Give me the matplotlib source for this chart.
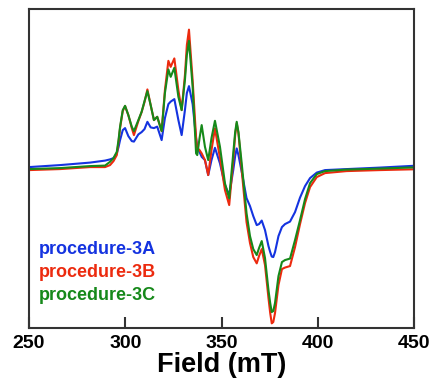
import matplotlib
matplotlib.use("Agg")
import matplotlib.pyplot as plt

# field (mT) and signal (arb. units, baseline ~0)
field = [250.0, 266.1, 281.7, 289.5, 292.1, 293.9, 295.6, 296.5, 297.3, 298.7,
         299.9, 301.6, 303.4, 304.5, 306.8, 308.5, 310.0, 311.5, 313.2, 314.9,
         316.6, 318.9, 320.6, 322.4, 323.6, 325.5, 327.6, 329.3, 331.0, 332.0,
         333.1, 335.0, 336.8, 337.4, 338.6, 339.7, 341.4, 343.1, 344.8, 346.6,
         349.2, 351.8, 354.0, 356.1, 357.1, 357.9, 358.8, 360.5, 363.0, 364.8,
         366.5, 368.3, 369.5, 370.9, 372.6, 374.4, 375.3, 376.1, 376.9, 377.8,
         379.6, 381.4, 383.0, 385.6, 388.2, 390.8, 393.4, 396.0, 399.5, 403.8,
         415.0, 432.3, 450.0]

proc_3a = [0, 2, 4.5, 6.5, 7.7, 9, 13.7, 20, 27, 37,
           39, 31, 26, 25.5, 32.7, 35, 38, 45.3, 39.7, 39,
           40.5, 27, 49, 63, 65.5, 68, 47, 32, 57, 74,
           81, 63, 29, 20.3, 15, 10.3, 7, -8, 7, 19.3,
           3.7, -18, -28, -3, 11, 18.7, 12, -4.7, -31, -39,
           -49, -58, -57, -53.5, -63, -79, -85, -89.5, -90, -85,
           -69, -60, -57, -54.5, -45, -30.5, -19, -11, -5.5, -3,
           -2, -0.5, 1.3]

proc_3b = [-3, -2, 0, 0, 2, 6, 12, 25, 39, 56,
           61, 52, 39, 32, 46, 55, 65, 77.7, 62, 47,
           50.3, 36, 77, 106.3, 100.3, 108.7, 77, 57, 92, 122,
           137.5, 87, 29, 18.7, 17, 13.7, 7, -8, 17, 38.7,
           9, -23, -38, 7, 32, 43.7, 34, -3, -55, -76,
           -90, -96.3, -89, -82, -98, -131, -146, -156.3, -155, -146,
           -118, -102, -100.5, -99, -80, -57, -36, -20, -10, -6,
           -4, -3, -2.2]

proc_3c = [-2, -1, 1, 1.5, 5.3, 9, 15.3, 27, 40.3, 57,
           61.3, 52, 40.3, 36, 47, 55.3, 66, 76, 62, 47,
           50.3, 36, 74, 97.7, 90.3, 99.3, 70.3, 57, 87, 112,
           126.3, 80.3, 13.7, 12, 29, 42, 20.3, 7, 29, 46.3,
           20.3, -16.3, -31.3, 13.7, 35, 45.3, 35, 3.7, -46, -69,
           -82, -88, -81, -74, -91, -123, -136, -145, -144, -136,
           -109, -95, -93, -91.5, -73, -53, -32, -16, -7, -4,
           -2.5, -1.5, -0.3]

labels = ["procedure-3A", "procedure-3B", "procedure-3C"]
colors = ["#1433e0", "#ec2a0e", "#16891a"]
xticks = [250, 300, 350, 400, 450]


def main():
    plt.rcParams["font.family"] = ["Liberation Sans", "DejaVu Sans"]
    fig = plt.figure(figsize=(4.35, 3.81), dpi=100)
    ax = fig.add_axes([0.0667, 0.139, 0.885, 0.837])

    for series, c in zip([proc_3a, proc_3b, proc_3c], colors):
        ax.plot(field, series, color=c, lw=1.5, solid_joinstyle="round")

    for i, (lab, c) in enumerate(zip(labels, colors)):
        ax.text(0.026, 0.245 - i * 0.072, lab, color=c, fontsize=13,
                fontweight="bold", transform=ax.transAxes, va="center")

    ax.set_xlim(250, 450)
    ax.set_ylim(-161, 158)
    ax.set_xticks(xticks)
    ax.set_yticks([])
    ax.tick_params(axis="x", direction="in", length=8, width=1.5,
                   labelsize=14, pad=5, color="#333333")
    for lab in ax.get_xticklabels():
        lab.set_fontweight("bold")
    for sp in ax.spines.values():
        sp.set_linewidth(1.5)
        sp.set_color("#333333")
    ax.set_xlabel("Field (mT)", fontsize=19.5, fontweight="bold", labelpad=0)

    fig.savefig("out.png", dpi=100)


if __name__ == "__main__":
    main()
